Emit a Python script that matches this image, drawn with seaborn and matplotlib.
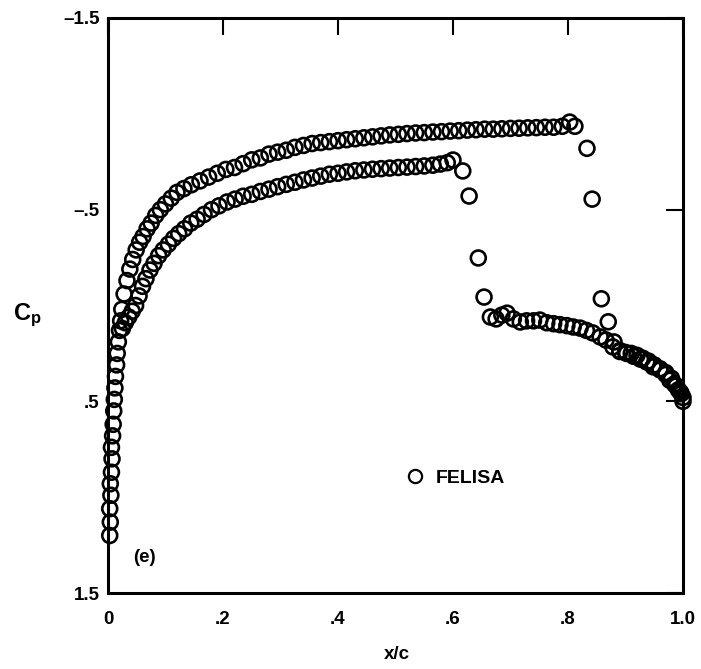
import matplotlib
matplotlib.use("Agg")
import matplotlib.pyplot as plt
from matplotlib.lines import Line2D
import seaborn as sns
import pandas as pd

# ---- data (x/c, Cp) ----
le_x = [0.003, 0.004, 0.003, 0.005, 0.004, 0.006, 0.007, 0.006, 0.008, 0.009,
        0.010, 0.011, 0.012, 0.013, 0.015, 0.016, 0.018, 0.020, 0.022]
le_cp = [1.20, 1.13, 1.06, 0.99, 0.93, 0.87, 0.80, 0.74, 0.68, 0.62,
         0.55, 0.49, 0.43, 0.37, 0.31, 0.25, 0.19, 0.13, 0.08]

up_x = [0.024, 0.028, 0.033, 0.038, 0.043, 0.049, 0.055, 0.061, 0.068, 0.075,
        0.083, 0.091, 0.100, 0.110, 0.120, 0.132, 0.145, 0.160, 0.175, 0.190,
        0.205, 0.220, 0.235, 0.250, 0.265, 0.280, 0.295, 0.310, 0.325, 0.340,
        0.355, 0.370, 0.385, 0.400, 0.415, 0.430, 0.445, 0.460, 0.475, 0.490,
        0.505, 0.520, 0.535, 0.550, 0.565, 0.580, 0.595, 0.610, 0.625, 0.640,
        0.655, 0.670, 0.685, 0.700, 0.715, 0.730, 0.745, 0.760, 0.775, 0.790,
        0.803, 0.812, 0.833, 0.842, 0.858, 0.870]
up_cp = [0.02, -0.06, -0.13, -0.19, -0.24, -0.29, -0.33, -0.36, -0.40, -0.43,
         -0.47, -0.50, -0.53, -0.56, -0.59, -0.61, -0.63, -0.65, -0.67, -0.69,
         -0.71, -0.72, -0.74, -0.76, -0.77, -0.79, -0.80, -0.81, -0.825, -0.835,
         -0.845, -0.85, -0.855, -0.86, -0.865, -0.87, -0.875, -0.88, -0.885, -0.89,
         -0.893, -0.897, -0.90, -0.902, -0.905, -0.907, -0.91, -0.912, -0.915, -0.917,
         -0.92, -0.92, -0.922, -0.924, -0.925, -0.927, -0.928, -0.93, -0.93, -0.935,
         -0.957, -0.935, -0.82, -0.555, -0.035, 0.085]

lo_x = [0.025, 0.030, 0.036, 0.042, 0.048, 0.054, 0.060, 0.066, 0.073, 0.080,
        0.088, 0.096, 0.105, 0.114, 0.123, 0.133, 0.144, 0.155, 0.167, 0.180,
        0.193, 0.207, 0.221, 0.235, 0.250, 0.265, 0.280, 0.295, 0.310, 0.325,
        0.340, 0.355, 0.370, 0.385, 0.400, 0.415, 0.430, 0.445, 0.460, 0.475,
        0.490, 0.505, 0.520, 0.535, 0.550, 0.565, 0.578, 0.590, 0.600, 0.617,
        0.628, 0.644, 0.654]
lo_cp = [0.12, 0.09, 0.06, 0.03, 0.00, -0.05, -0.10, -0.14, -0.185, -0.22,
         -0.26, -0.29, -0.32, -0.35, -0.375, -0.40, -0.43, -0.45, -0.475, -0.50,
         -0.52, -0.54, -0.555, -0.57, -0.58, -0.595, -0.607, -0.62, -0.632, -0.643,
         -0.655, -0.665, -0.675, -0.685, -0.69, -0.697, -0.703, -0.707, -0.711, -0.714,
         -0.717, -0.72, -0.722, -0.725, -0.728, -0.732, -0.738, -0.745, -0.759, -0.702,
         -0.571, -0.248, -0.044]

te1_x = [0.665, 0.675, 0.685, 0.694, 0.705, 0.717, 0.728, 0.740, 0.751, 0.763,
         0.775, 0.786, 0.798, 0.809, 0.821, 0.832, 0.843, 0.856, 0.866, 0.878,
         0.890, 0.902, 0.914, 0.926, 0.937, 0.948, 0.960, 0.970, 0.977, 0.985,
         0.992, 0.997, 1.000]
te1_cp = [0.06, 0.07, 0.05, 0.04, 0.07, 0.086, 0.08, 0.08, 0.076, 0.09,
          0.095, 0.10, 0.105, 0.112, 0.118, 0.13, 0.143, 0.164, 0.18, 0.216,
          0.235, 0.25, 0.265, 0.28, 0.295, 0.32, 0.336, 0.36, 0.39, 0.41,
          0.44, 0.46, 0.48]

te2_x = [0.880, 0.890, 0.900, 0.910, 0.920, 0.930, 0.940, 0.950, 0.960, 0.970,
         0.980, 0.988, 0.995, 1.000]
te2_cp = [0.19, 0.24, 0.245, 0.25, 0.26, 0.275, 0.29, 0.31, 0.33, 0.35,
          0.38, 0.42, 0.45, 0.50]

x_ticks = [0, 0.2, 0.4, 0.6, 0.8, 1.0]
x_ticklabels = ["0", ".2", ".4", ".6", ".8", "1.0"]
y_ticks = [-1.5, -0.5, 0.5, 1.5]
y_ticklabels = ["\u20131.5", "\u2013.5", ".5", "1.5"]

df = pd.DataFrame({
    "x": le_x + up_x + lo_x + te1_x + te2_x,
    "cp": le_cp + up_cp + lo_cp + te1_cp + te2_cp,
})

# ---- style ----
sns.set_theme(style="white")
plt.rcParams["font.family"] = ["Liberation Sans", "DejaVu Sans"]
plt.rcParams["font.weight"] = "bold"
plt.rcParams["text.color"] = "black"
plt.rcParams["axes.labelcolor"] = "black"
plt.rcParams["xtick.color"] = "black"
plt.rcParams["ytick.color"] = "black"
plt.rcParams["mathtext.fontset"] = "custom"
plt.rcParams["mathtext.rm"] = "Liberation Sans:bold"
plt.rcParams["mathtext.bf"] = "Liberation Sans:bold"
plt.rcParams["mathtext.it"] = "Liberation Sans:bold"

fig = plt.figure(figsize=(7.01, 6.69), dpi=100)
ax = fig.add_axes([108 / 701, 1 - 593 / 669, 575 / 701, 575 / 669])

sns.scatterplot(data=df, x="x", y="cp", ax=ax, marker="o", s=115,
                facecolors="none", edgecolor="black", linewidth=1.9,
                clip_on=False, zorder=3, legend=False)

ax.set_xlim(0, 1.0)
ax.set_ylim(1.5, -1.5)
ax.set_xticks(x_ticks, labels=x_ticklabels)
ax.set_yticks(y_ticks, labels=y_ticklabels)
ax.tick_params(axis="both", direction="in", length=12, width=1.5, color="black",
               labelcolor="black", labelsize=13.5, top=True, right=True)
ax.tick_params(axis="x", pad=13)
ax.tick_params(axis="y", pad=6)
for lab in ax.get_xticklabels() + ax.get_yticklabels():
    lab.set_fontweight("bold")

for sp in ax.spines.values():
    sp.set_linewidth(2.2)
    sp.set_color("black")

ax.set_xlabel("x/c", fontsize=13.5, fontweight="bold", color="black")
ax.xaxis.set_label_coords(0.5026, -0.092)
ax.set_ylabel(r"$\mathbf{C_p}$", fontsize=17, rotation=0, va="center", ha="center",
              color="black")
ax.yaxis.set_label_coords(-0.141, 0.4835)

ax.text(0.064, 1.317, "(e)", fontsize=13.5, fontweight="bold", ha="center", va="center",
        color="black")

handle = Line2D([], [], linestyle="none", marker="o", markersize=9.5,
                markerfacecolor="none", markeredgecolor="black", markeredgewidth=1.6)
leg = ax.legend([handle], ["FELISA"], loc="center left",
                bbox_to_anchor=(405 / 701, 1 - 478 / 669), bbox_transform=fig.transFigure,
                frameon=False, handlelength=1.0, handletextpad=0.6, borderpad=0,
                borderaxespad=0, labelcolor="black",
                prop={"family": "Liberation Sans", "weight": "bold", "size": 14})

fig.savefig("out.png", dpi=100)
